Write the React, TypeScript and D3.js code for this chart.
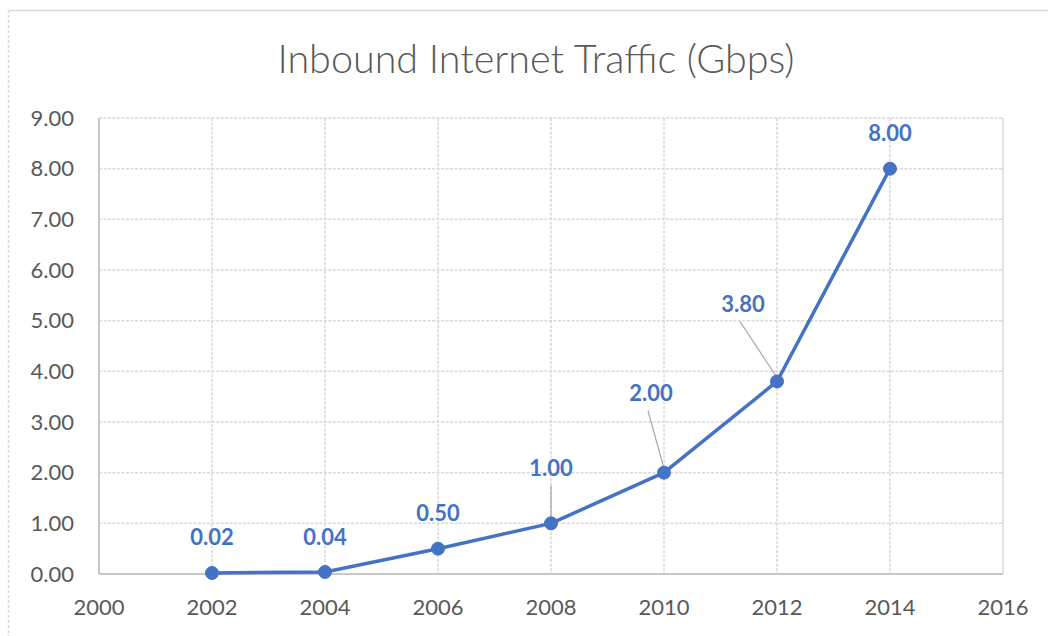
import React from "react";
import * as d3 from "d3";

const years = [2002, 2004, 2006, 2008, 2010, 2012, 2014];
const traffic = [0.02, 0.04, 0.5, 1.0, 2.0, 3.8, 8.0];
const labels = ["0.02", "0.04", "0.50", "1.00", "2.00", "3.80", "8.00"];
const xTicks = [2000, 2002, 2004, 2006, 2008, 2010, 2012, 2014, 2016];
const yTicks = [0, 1, 2, 3, 4, 5, 6, 7, 8, 9];
const title = "Inbound Internet Traffic (Gbps)";

// label offsets (px) relative to the point; leader flag
const labelDx = [0, 0, 0, 0, -13, -34, 0];
const labelDy = [-36, -35, -35, -55, -79, -77, -35];
const hasLeader = [false, false, false, true, true, true, false];

const W = 1048;
const H = 636;
const margin = { left: 99, right: 45, top: 118, bottom: 62 };

export default function App() {
  const x = d3.scaleLinear().domain([2000, 2016]).range([margin.left, W - margin.right]);
  const y = d3.scaleLinear().domain([0, 9]).range([H - margin.bottom, margin.top]);
  const line = d3
    .line<number>()
    .x((_, i) => x(years[i]))
    .y((d) => y(d));
  const grid = "#d9d9d9";
  const textCol = "#595959";
  const blue = "#4472C4";
  const font = "Lato, 'Open Sans', sans-serif";

  return (
    <div style={{ position: "fixed", left: 0, top: 0, width: W, height: H, background: "#fff" }}>
      <svg width={W} height={H} style={{ display: "block" }}>
        <rect x={0} y={0} width={W} height={H} fill="#fff" />
        {/* outer chart border */}
        <line x1={8} x2={W} y1={10.5} y2={10.5} stroke="#d9d9d9" strokeWidth={1.5} />
        <line x1={8.5} x2={8.5} y1={10} y2={H} stroke="#d9d9d9" strokeWidth={1.5} strokeDasharray="3,2" />
        <text
          x={536}
          y={73}
          textAnchor="middle"
          fontFamily={font}
          fontWeight={300}
          fontSize={39.5}
          fill={textCol}
        >
          {title}
        </text>
        {/* horizontal gridlines */}
        {yTicks.map((t) => (
          <line
            key={"h" + t}
            x1={x(2000)}
            x2={x(2016)}
            y1={y(t)}
            y2={y(t)}
            stroke={grid}
            strokeWidth={1.5}
            strokeDasharray={t === 0 ? undefined : "3,1.5"}
          />
        ))}
        {/* vertical gridlines */}
        {xTicks.map((t) => (
          <line
            key={"v" + t}
            x1={x(t)}
            x2={x(t)}
            y1={y(9)}
            y2={y(0)}
            stroke={grid}
            strokeWidth={1.5}
            strokeDasharray={t === 2000 || t === 2016 ? undefined : "3,1.5"}
          />
        ))}
        {/* axes */}
        <line x1={x(2000)} x2={x(2016)} y1={y(0)} y2={y(0)} stroke="#bfbfbf" strokeWidth={1.5} />
        <line x1={x(2000)} x2={x(2000)} y1={y(0)} y2={y(9)} stroke="#bfbfbf" strokeWidth={1.5} />
        {/* y tick labels */}
        {yTicks.map((t) => (
          <text
            key={"yl" + t}
            x={74}
            y={y(t)}
            dy="0.35em"
            textAnchor="end"
            fontFamily={font}
            fontSize={22}
            fill={textCol}
          >
            {d3.format(".2f")(t)}
          </text>
        ))}
        {/* x tick labels */}
        {xTicks.map((t) => (
          <text
            key={"xl" + t}
            x={x(t)}
            y={607}
            dy="0.35em"
            textAnchor="middle"
            fontFamily={font}
            fontSize={22}
            fill={textCol}
          >
            {t}
          </text>
        ))}
        {/* leader lines */}
        {years.map((yr, i) =>
          hasLeader[i] ? (
            <line
              key={"ld" + i}
              x1={x(yr) + labelDx[i] - (i === 3 ? 0 : 3)}
              y1={y(traffic[i]) + labelDy[i] + 17}
              x2={x(yr)}
              y2={y(traffic[i]) - 4}
              stroke="#a6a6a6"
              strokeWidth={1.2}
            />
          ) : null
        )}
        {/* series line */}
        <path d={line(traffic) || ""} fill="none" stroke={blue} strokeWidth={3.5} strokeLinejoin="round" />
        {years.map((yr, i) => (
          <circle key={"c" + i} cx={x(yr)} cy={y(traffic[i])} r={6.5} fill={blue} stroke={blue} />
        ))}
        {/* data labels */}
        {years.map((yr, i) => (
          <text
            key={"dl" + i}
            x={x(yr) + labelDx[i]}
            y={y(traffic[i]) + labelDy[i]}
            dy="0.35em"
            textAnchor="middle"
            fontFamily={font}
            fontWeight={700}
            fontSize={22}
            fill={blue}
          >
            {labels[i]}
          </text>
        ))}
      </svg>
    </div>
  );
}
